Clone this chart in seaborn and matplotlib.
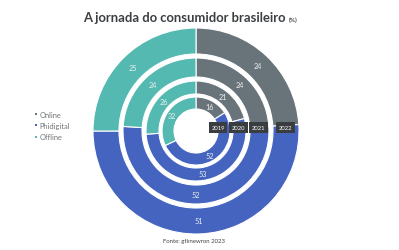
import matplotlib
matplotlib.use("Agg")
import matplotlib.pyplot as plt
import seaborn as sns

# ---- data ----
categories = ["Online", "Phidigital", "Offline"]
years = ["2019", "2020", "2021", "2022"]
online = [16, 21, 24, 24]
phidigital = [52, 53, 52, 51]
offline = [32, 26, 24, 25]
title = "A jornada do consumidor brasileiro"
title_unit = "(%)"
source = "Fonte: gfknewron 2023"

colors = ["#69747a", "#4464c0", "#54b9b0"]

sns.set_theme(style="white")
plt.rcParams["font.family"] = ["Lato", "DejaVu Sans"]

W, H = 399, 251
fig = plt.figure(figsize=(W / 100, H / 100), dpi=100)
ax = fig.add_axes([0, 0, 1, 1])

cx, cy = 196, H - 132
# ring outer / inner radii (pixels), innermost first
outer_r = [34, 50, 73, 103]
inner_r = [22, 37, 54, 77]
tag_offset = [22, 42.5, 62.5, 89.5]

for i, yr in enumerate(years):
    vals = [online[i], phidigital[i], offline[i]]
    width = outer_r[i] - inner_r[i]
    wedges, texts = ax.pie(
        vals, colors=colors, startangle=90, counterclock=False,
        radius=outer_r[i], center=(cx, cy),
        wedgeprops=dict(width=width, edgecolor="white", linewidth=0.8),
        labels=[str(v) for v in vals],
        labeldistance=(outer_r[i] - width / 2) / outer_r[i],
        textprops=dict(color="#eef0f2", fontsize=5.2, ha="center", va="center"),
    )
    # year tag at 3 o'clock
    ax.text(cx + tag_offset[i], H - 128.5, yr, fontsize=4.2, color="white",
            ha="center", va="center",
            bbox=dict(boxstyle="square,pad=0.45", fc="#3a3d40", ec="none"))

ax.set_xlim(0, W)
ax.set_ylim(0, H)
ax.set_aspect("equal")
ax.axis("off")

# title
t = fig.text(83 / W, 1 - 22 / H, title, fontsize=9.4, fontweight="bold",
             color="#3c3f42", ha="left", va="baseline")
fig.canvas.draw()
bb = t.get_window_extent()
fig.text((bb.x1 + 3) / W, 1 - 22 / H, title_unit, fontsize=4.6, fontweight="bold",
         color="#3c3f42", ha="left", va="baseline")

# legend
for k, (c, lab) in enumerate(zip(colors, categories)):
    y = 115 + k * 11.3
    ax.scatter([36], [H - y], marker="s", s=4, color=c, linewidths=0)
    ax.text(39.5, H - y, lab, fontsize=5.4, color="#707478", ha="left", va="center")

# source
fig.text(194 / W, 1 - 242 / H, source, fontsize=4.3, color="#444", ha="center", va="center")

fig.savefig("out.png", dpi=100)
